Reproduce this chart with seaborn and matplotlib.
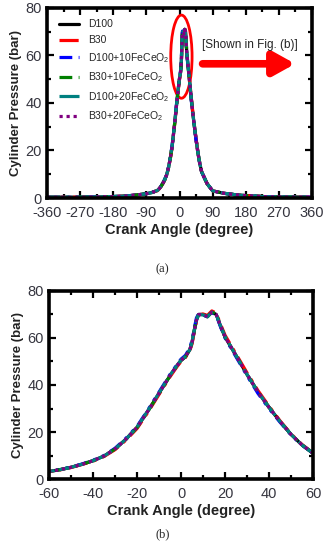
import matplotlib
matplotlib.use("Agg")
import matplotlib.pyplot as plt
import seaborn as sns
import pandas as pd
from matplotlib.patches import Ellipse

angle = [-360, -300, -240, -180, -150, -120, -90, -75,
         -60, -55, -50, -45, -40, -35, -30, -25, -20, -15, -10, -5,
         -2, 0, 2, 4, 5, 6, 7, 8,
         10, 12, 14, 16, 18, 20,
         25, 30, 35, 40, 45, 50, 55, 60,
         75, 90, 120, 150, 180, 240, 300, 360]

p_d100 = [0.3, 0.3, 0.4, 0.6, 0.8, 1.2, 1.8, 2.3,
          3.2, 4.0, 5.0, 6.3, 7.8, 9.8, 12.8, 17.0, 22.0, 29.0, 36.5, 44.0,
          48.0, 50.5, 52.0, 55.0, 58.0, 63.0, 67.5, 70.0,
          70.0, 69.0, 71.0, 70.0, 65.0, 60.5,
          52.5, 44.5, 37.0, 30.5, 24.5, 19.0, 14.5, 11.0,
          6.0, 3.0, 2.0, 1.4, 1.0, 0.5, 0.4, 0.3]
p_b30 = [0.3, 0.3, 0.4, 0.6, 0.8, 1.2, 1.8, 2.3,
         3.1, 3.9, 4.9, 6.2, 7.6, 9.6, 12.5, 16.6, 21.5, 28.5, 36.0, 43.5,
         47.6, 50.0, 51.7, 54.6, 57.5, 62.5, 67.0, 69.8,
         70.2, 69.6, 71.5, 70.6, 65.8, 61.2,
         53.2, 45.2, 37.6, 31.0, 24.8, 19.2, 14.7, 11.1,
         6.0, 3.0, 2.0, 1.4, 1.0, 0.5, 0.4, 0.3]
p_d100_10 = [0.3, 0.3, 0.4, 0.6, 0.8, 1.2, 1.8, 2.3,
             3.3, 4.1, 5.1, 6.4, 8.0, 10.0, 13.1, 17.4, 22.4, 29.5, 37.0, 44.5,
             48.5, 51.0, 52.6, 55.8, 59.0, 64.0, 68.5, 70.3,
             69.8, 69.0, 70.8, 69.8, 64.6, 60.0,
             52.0, 44.0, 36.4, 30.0, 24.2, 18.8, 14.4, 11.0,
             6.0, 3.0, 2.0, 1.4, 1.0, 0.5, 0.4, 0.3]
p_b30_10 = [0.3, 0.3, 0.4, 0.6, 0.8, 1.2, 1.8, 2.3,
            3.2, 4.0, 5.0, 6.3, 7.8, 9.8, 12.8, 16.9, 21.9, 28.9, 36.4, 43.9,
            47.9, 50.4, 52.0, 55.2, 58.2, 63.2, 67.8, 70.0,
            70.0, 69.2, 71.0, 70.2, 65.3, 60.4,
            52.6, 44.6, 37.1, 30.6, 24.5, 19.0, 14.5, 11.0,
            6.0, 3.0, 2.0, 1.4, 1.0, 0.5, 0.4, 0.3]
p_d100_20 = [0.3, 0.3, 0.4, 0.6, 0.8, 1.2, 1.8, 2.3,
             3.2, 4.0, 5.0, 6.3, 7.8, 9.8, 12.8, 17.0, 22.1, 29.2, 36.6, 44.2,
             48.1, 50.6, 52.1, 55.1, 58.2, 63.2, 67.6, 70.0,
             69.8, 69.0, 71.0, 70.0, 65.0, 60.6,
             52.5, 44.5, 37.0, 30.5, 24.5, 19.0, 14.5, 11.0,
             6.0, 3.0, 2.0, 1.4, 1.0, 0.5, 0.4, 0.3]
p_b30_20 = [0.3, 0.3, 0.4, 0.6, 0.8, 1.2, 1.8, 2.3,
            3.2, 4.0, 5.0, 6.3, 7.8, 9.8, 12.8, 17.0, 22.0, 29.0, 36.5, 44.0,
            48.0, 50.5, 52.0, 55.0, 58.0, 63.0, 67.5, 70.0,
            70.0, 69.0, 71.0, 70.0, 65.0, 60.5,
            52.5, 44.5, 37.0, 30.5, 24.5, 19.0, 14.5, 11.0,
            6.0, 3.0, 2.0, 1.4, 1.0, 0.5, 0.4, 0.3]

labels = ["D100", "B30", r"D100+10FeCeO$_2$", r"B30+10FeCeO$_2$",
          r"D100+20FeCeO$_2$", r"B30+20FeCeO$_2$"]
series = [p_d100, p_b30, p_d100_10, p_b30_10, p_d100_20, p_b30_20]

colors = ["black", "red", "blue", "green", "teal", "purple"]
dashes = [(None, None), (6, 2, 1, 2), (4, 2, 1, 2, 1, 2), (4, 2, 1, 2), (8, 1.5), (1, 1.2)]

xticks_a = [-360, -270, -180, -90, 0, 90, 180, 270, 360]
yticks = [0, 20, 40, 60, 80]
xticks_b = [-60, -40, -20, 0, 20, 40, 60]

sns.set_style("ticks")
plt.rcParams["font.family"] = ["Liberation Sans", "DejaVu Sans"]
plt.rcParams["mathtext.fontset"] = "custom"
plt.rcParams["mathtext.rm"] = "Liberation Sans"
plt.rcParams["axes.unicode_minus"] = False

fig = plt.figure(figsize=(3.25, 5.5), dpi=100)
ax1 = fig.add_axes([0.145, 0.64, 0.815, 0.3455])
ax2 = fig.add_axes([0.151, 0.129, 0.812, 0.342])

rows = []
for lab, vals in zip(labels, series):
    for a, p in zip(angle, vals):
        rows.append({"angle": a, "pressure": p, "fuel": lab})
df = pd.DataFrame(rows)

for ax in (ax1, ax2):
    for lab, c, d in zip(labels, colors, dashes):
        sub = df[df["fuel"] == lab]
        sns.lineplot(data=sub, x="angle", y="pressure", ax=ax, color=c, lw=2.3,
                     label=lab, legend=False, sort=True, estimator=None)
        line = ax.lines[-1]
        if d[0] is not None:
            line.set_dashes(d)

tick_col = "#35353f"
for ax, xt, xl in ((ax1, xticks_a, (-360, 360)), (ax2, xticks_b, (-60, 60))):
    ax.set_xlim(*xl)
    ax.set_ylim(0, 80)
    ax.set_xticks(xt)
    ax.set_yticks(yticks)
    step = xt[1] - xt[0]
    ax.set_xticks([v + step / 2 for v in xt[:-1]], minor=True)
    ax.set_yticks([10, 30, 50, 70], minor=True)
    ax.tick_params(which="both", direction="in", top=True, right=True, width=1.6,
                   color="black", labelsize=10.5, labelcolor=tick_col)
    ax.tick_params(axis="x", which="major", pad=6)
    ax.tick_params(axis="y", which="major", pad=4)
    ax.tick_params(which="major", length=5)
    ax.tick_params(which="minor", length=3)
    for s in ax.spines.values():
        s.set_linewidth(2.6)
        s.set_color("black")
        s.set_visible(True)
    ax.set_xlabel("Crank Angle (degree)", fontsize=10.5, fontweight="bold", color="#222222",
                  labelpad=2)
    ax.set_ylabel("Cylinder Pressure (bar)", fontsize=9.5, fontweight="bold", color="#222222",
                  labelpad=2)

ax1.legend(loc="upper left", frameon=False, fontsize=7.5, handlelength=2.0,
           labelspacing=0.55, borderaxespad=0.7, handletextpad=0.8)

ax1.add_patch(Ellipse((5, 59.5), 58, 35, fill=False, ec="red", lw=2))
ax1.annotate("", xy=(322, 56.5), xytext=(55, 56.5),
             arrowprops=dict(arrowstyle="-|>,head_width=0.5,head_length=0.9",
                             lw=5.5, color="red", mutation_scale=14))
ax1.text(192, 64.5, "[Shown in Fig. (b)]", fontsize=8.5, ha="center", va="center",
         color="#222222")

fig.text(0.5, 0.511, "(a)", ha="center", va="center", fontsize=9,
         family=["Liberation Serif", "DejaVu Serif"])
fig.text(0.5, 0.029, "(b)", ha="center", va="center", fontsize=9,
         family=["Liberation Serif", "DejaVu Serif"])

fig.savefig("out.png", dpi=100)
